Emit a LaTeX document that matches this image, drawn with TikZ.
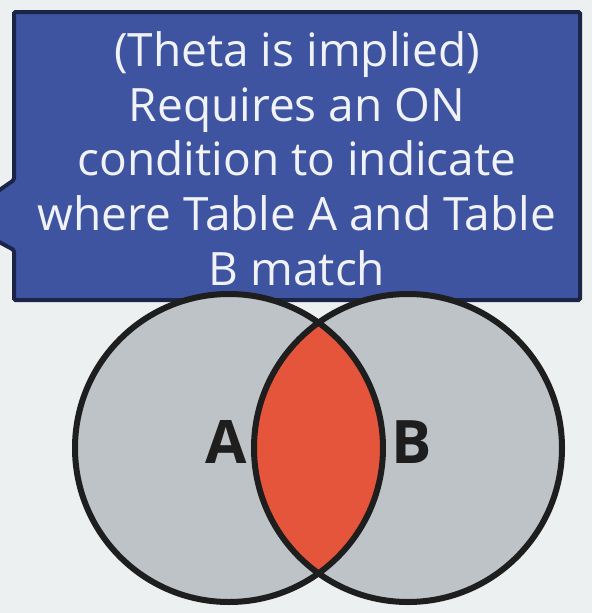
\documentclass[tikz,border=0pt]{standalone}
\usepackage{fontspec}
\setmainfont{Open Sans}
\definecolor{bgc}{HTML}{ECF0F1}
\definecolor{calfill}{HTML}{3E54A0}
\definecolor{calborder}{HTML}{1C2548}
\definecolor{circfill}{HTML}{BDC3C7}
\definecolor{lensfill}{HTML}{E4553B}
\definecolor{inkc}{HTML}{1E1E1E}
\definecolor{txtc}{HTML}{F0F2F6}
\begin{document}
\begin{tikzpicture}[x=1pt,y=-1pt,
  callout/.style={fill=calfill,draw=calborder,line width=4pt,rounded corners=1.5pt,line join=miter},
  setcircle/.style={line width=6pt,draw=inkc},
  letter/.style={font=\fontsize{60}{60}\selectfont\bfseries,text=inkc,anchor=base,inner sep=0pt},
  caption/.style={font=\fontsize{46}{54.7}\selectfont,text=txtc,align=center,inner sep=0pt}]
\fill[bgc] (0,0) rectangle (592,613);
\useasboundingbox (0,0) rectangle (592,613);
\begin{scope}
\clip (0,0) rectangle (592,613);
\draw[callout] (14,12) -- (580,12) -- (580,300) -- (14,300) -- (14,250) -- (-12,236) -- (-12,198) -- (14,180) -- cycle;
\end{scope}
\node[caption] (cap) at (297,158.5) {(Theta is implied)\\Requires an ON\\condition to indicate\\where Table A and Table\\B match};
\coordinate (ca) at (229,448);
\coordinate (cb) at (408,448);
\fill[circfill] (ca) circle (154);
\fill[circfill] (cb) circle (154);
\begin{scope}
\clip (ca) circle (154);
\fill[lensfill] (cb) circle (154);
\end{scope}
\draw[setcircle] (ca) circle (154);
\draw[setcircle] (cb) circle (154);
\node[letter] (la) at (226.5,463) {A};
\node[letter] (lb) at (411.5,463) {B};
\end{tikzpicture}
\end{document}
